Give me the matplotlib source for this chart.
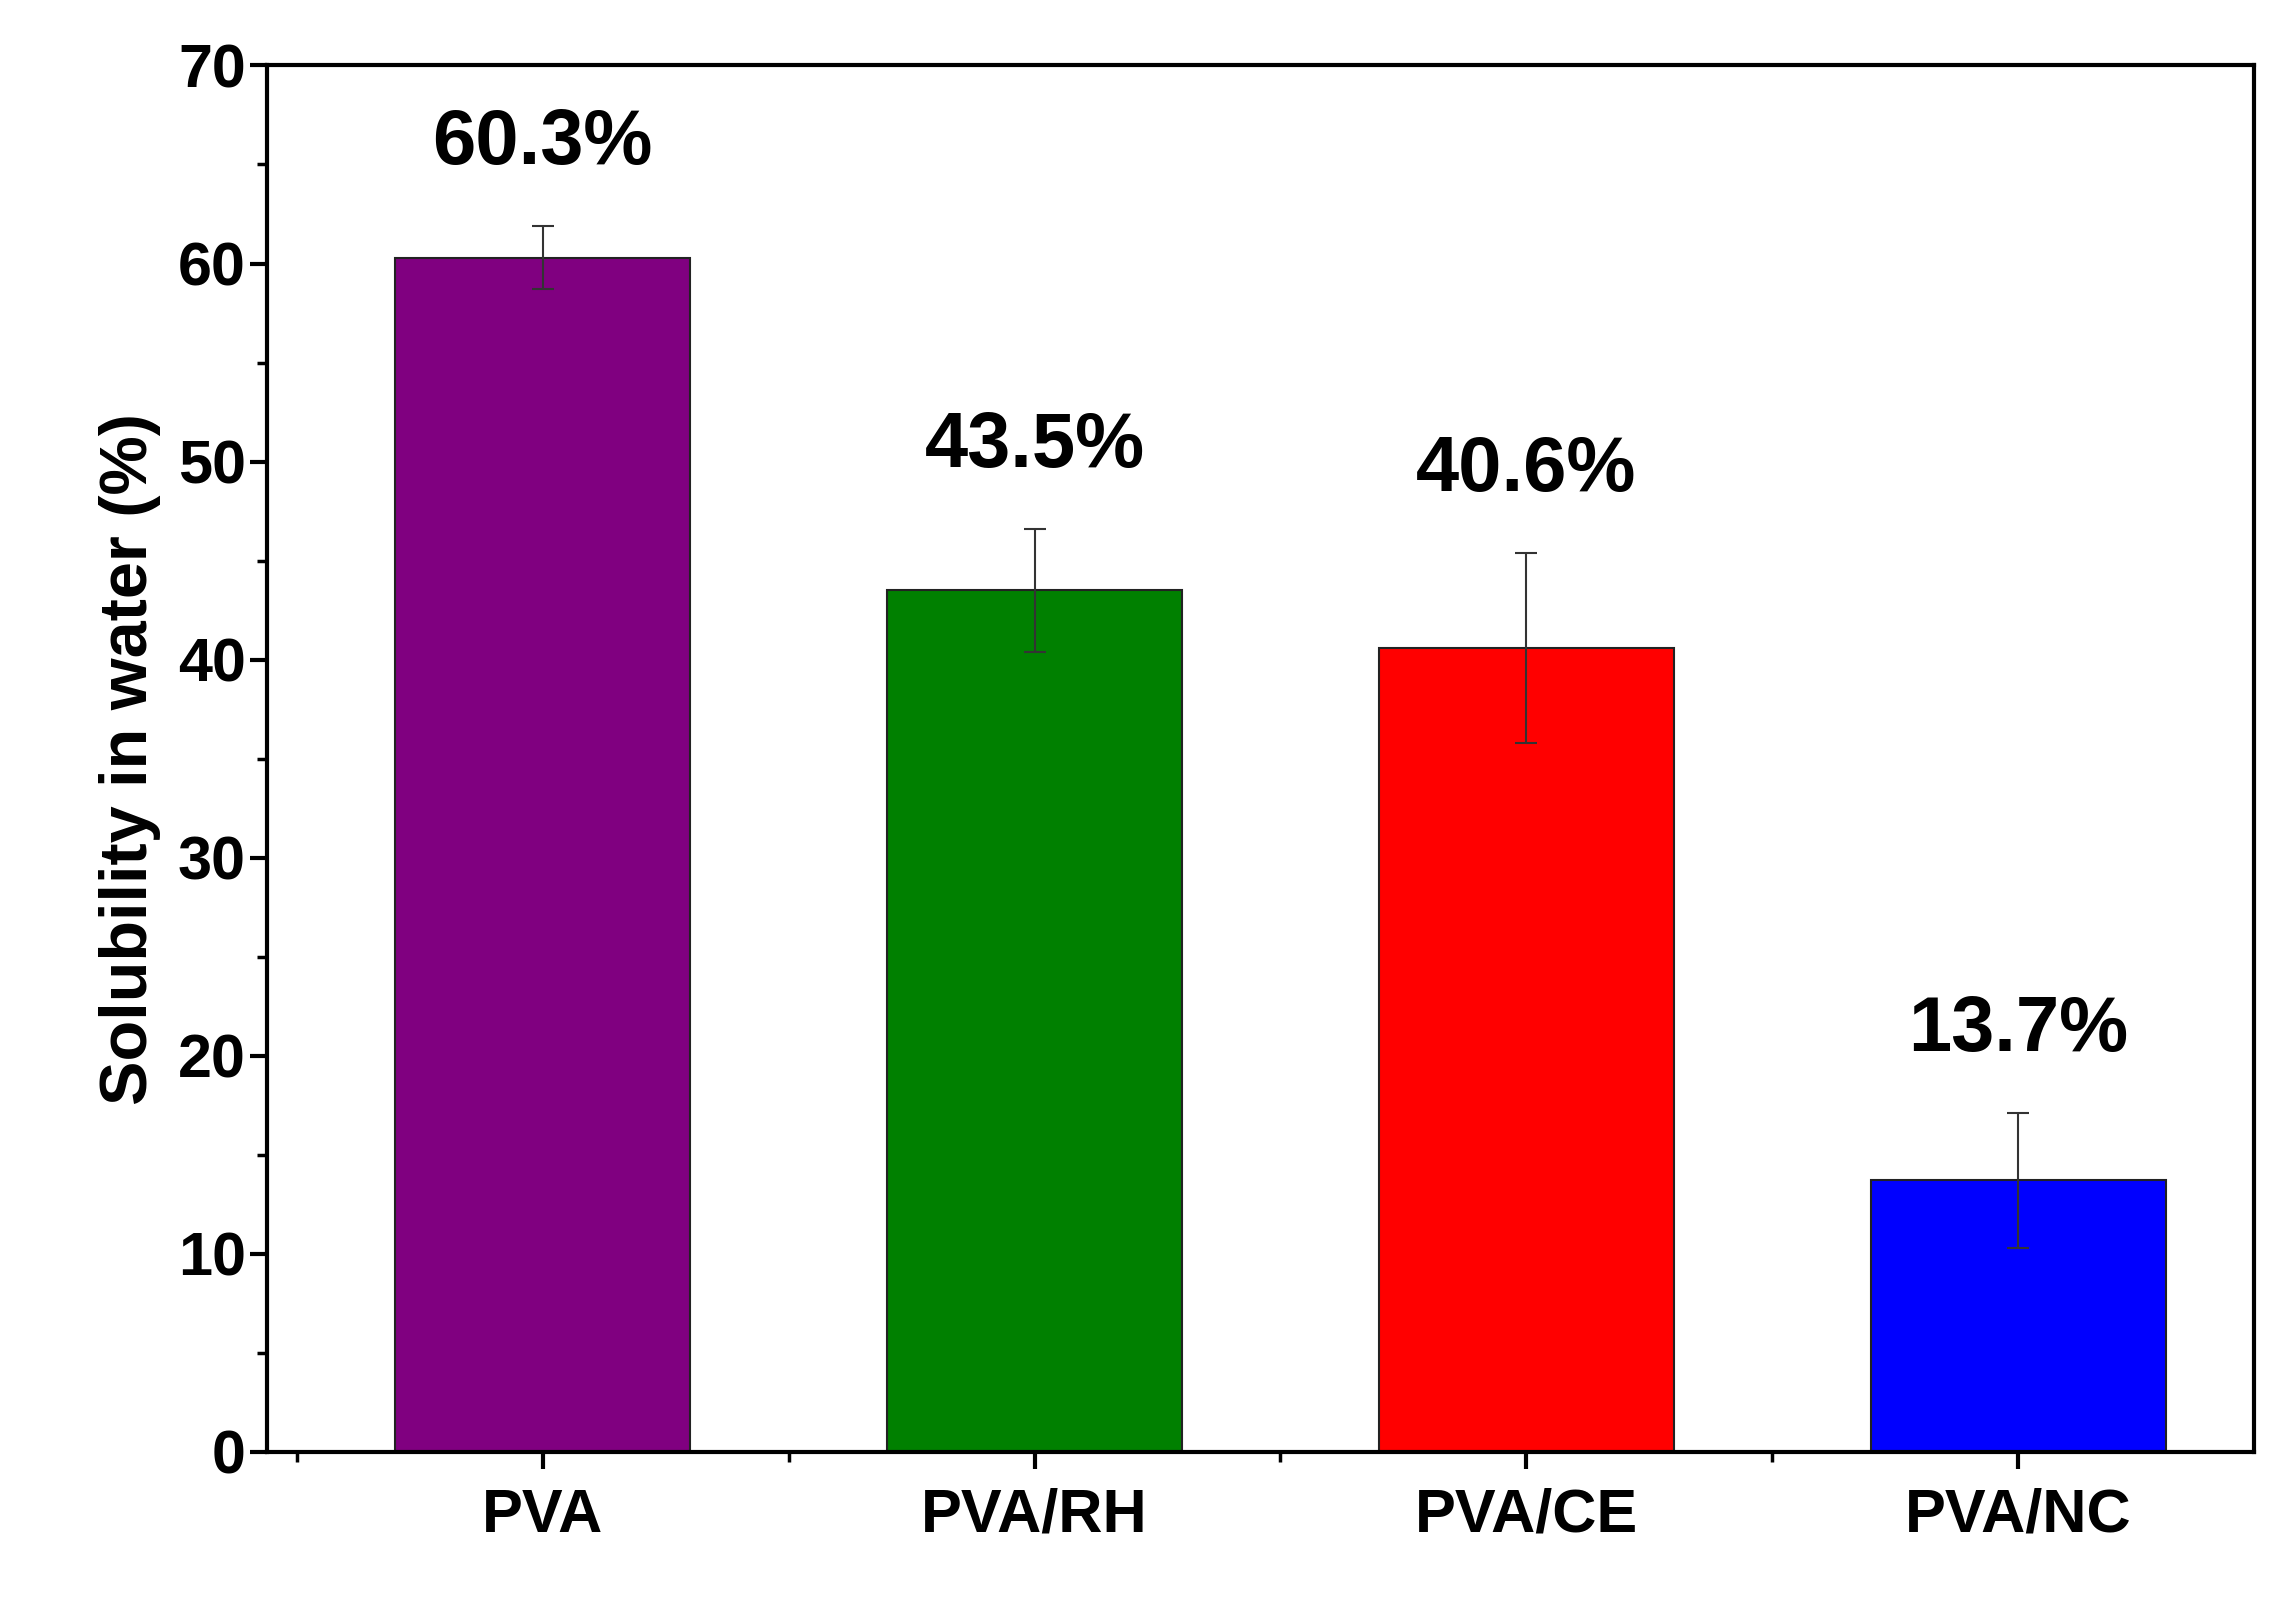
import matplotlib.pyplot as plt
from matplotlib.ticker import MultipleLocator

samples = ['PVA', 'PVA/RH', 'PVA/CE', 'PVA/NC']
solubility = [60.3, 43.5, 40.6, 13.7]
errors = [1.6, 3.1, 4.8, 3.4]
labels = ['60.3%', '43.5%', '40.6%', '13.7%']
colors = ['#800080', '#008000', '#ff0000', '#0000ff']

plt.rcParams['font.family'] = ['Liberation Sans', 'DejaVu Sans']
plt.rcParams['font.weight'] = 'bold'

fig = plt.figure(figsize=(22.84, 15.97), dpi=100)
ax = fig.add_axes([0.117, 0.091, 0.87, 0.868])

x = list(range(len(samples)))
ax.bar(x, solubility, width=0.6, color=colors, edgecolor='#222222', linewidth=1.5,
       yerr=errors, error_kw=dict(ecolor='#333333', elinewidth=1.5, capsize=8, capthick=1.5))
for xi, v, e, t in zip(x, solubility, errors, labels):
    ax.text(xi, v + e + 2.3, t, ha='center', va='bottom', fontsize=56, fontweight='bold')

ax.set_xlim(-0.56, 3.48)
ax.set_ylim(0, 70)
ax.set_xticks(x)
ax.set_xticklabels(samples, fontsize=48, fontweight='bold')
ax.yaxis.set_major_locator(MultipleLocator(10))
ax.yaxis.set_minor_locator(MultipleLocator(5))
ax.xaxis.set_minor_locator(MultipleLocator(0.5))
ax.tick_params(axis='both', which='major', direction='out', length=12, width=3, labelsize=44)
ax.tick_params(axis='both', which='minor', direction='out', length=7, width=2.5)
ax.tick_params(axis='x', pad=14)
for s in ax.spines.values():
    s.set_linewidth(3)
ax.set_ylabel('Solubility in water (%)', fontsize=48, fontweight='bold', labelpad=12)

fig.savefig('out.png', dpi=100)
